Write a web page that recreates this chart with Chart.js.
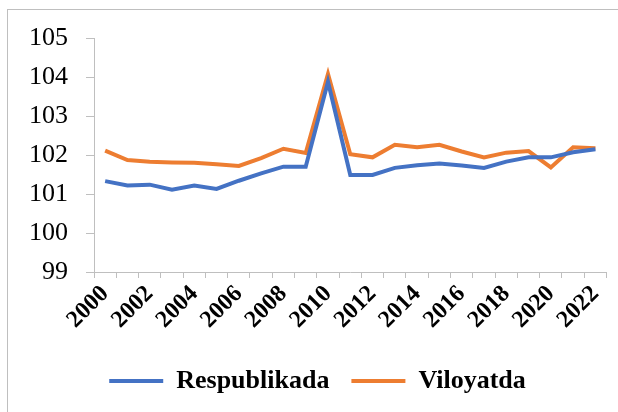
<!DOCTYPE html>
<html lang="en">

<head>
  <meta charset="UTF-8">
  <title>Respublikada va Viloyatda</title>
  <script src="https://cdn.jsdelivr.net/npm/chart.js"></script>
  <style>
    body {
      margin: 0;
      background: #ffffff;
      width: 618px;
      height: 412px;
      overflow: hidden;
      position: relative;
    }

    .frame {
      position: absolute;
      left: 7px;
      top: 9px;
      width: 700px;
      height: 500px;
      border: 1px solid #bfbfbf;
    }

    #chart {
      position: absolute;
      left: 0;
      top: 0;
    }
  </style>
</head>

<body>

  <div class="frame"></div>
  <canvas id="chart" width="618" height="412"></canvas>

  <script>
    const years = ['2000', '2001', '2002', '2003', '2004', '2005', '2006', '2007', '2008', '2009', '2010', '2011',
      '2012', '2013', '2014', '2015', '2016', '2017', '2018', '2019', '2020', '2021', '2022'];
    const respublikada = [101.33, 101.22, 101.24, 101.11, 101.22, 101.13, 101.34, 101.53, 101.70, 101.70, 103.88, 101.49,
      101.49, 101.67, 101.74, 101.78, 101.73, 101.67, 101.83, 101.94, 101.94, 102.07, 102.15];
    const viloyatda = [102.11, 101.87, 101.83, 101.81, 101.80, 101.76, 101.72, 101.92, 102.16, 102.05, 104.08, 102.02,
      101.94, 102.26, 102.20, 102.26, 102.09, 101.94, 102.06, 102.10, 101.68, 102.20, 102.17];

    const axisGray = '#bfbfbf';

    new Chart(document.getElementById('chart'), {
      type: 'line',
      data: {
        labels: years,
        datasets: [{
          label: 'Respublikada',
          data: respublikada,
          borderColor: '#4472c4',
          backgroundColor: '#4472c4',
          borderWidth: 4,
          pointRadius: 0,
          tension: 0,
          fill: false
        }, {
          label: 'Viloyatda',
          data: viloyatda,
          borderColor: '#ed7d31',
          backgroundColor: '#ed7d31',
          borderWidth: 4,
          pointRadius: 0,
          tension: 0,
          fill: false
        }]
      },
      options: {
        responsive: false,
        animation: false,
        layout: {
          padding: { top: 38, left: 27, right: 10, bottom: 8 }
        },
        plugins: {
          tooltip: { enabled: false },
          legend: {
            position: 'bottom',
            labels: {
              boxWidth: 54,
              boxHeight: 4,
              padding: 22,
              color: '#000',
              font: { family: 'Liberation Serif', size: 26, weight: 'bold' },
              generateLabels: (chart) => {
                const items = Chart.defaults.plugins.legend.labels.generateLabels(chart);
                items.forEach(it => { it.lineWidth = 0; });
                return items;
              }
            }
          }
        },
        scales: {
          x: {
            offset: true,
            afterFit: (scale) => { scale.height = 74; },
            grid: {
              offset: true,
              drawOnChartArea: false,
              drawTicks: true,
              tickLength: 6,
              color: axisGray
            },
            border: { color: axisGray, width: 1 },
            ticks: {
              autoSkip: false,
              minRotation: 45,
              maxRotation: 45,
              padding: 2,
              color: '#000',
              font: { family: 'Liberation Serif', size: 24, weight: 'bold' },
              callback: (v, i) => (i % 2 === 0 ? years[i] : '')
            }
          },
          y: {
            min: 99,
            max: 105,
            afterFit: (scale) => { scale.width = 67; },
            grid: {
              drawOnChartArea: false,
              drawTicks: true,
              tickLength: 8,
              color: axisGray
            },
            border: { color: axisGray, width: 1 },
            ticks: {
              stepSize: 1,
              padding: 18,
              color: '#000',
              font: { family: 'Liberation Serif', size: 26 }
            }
          }
        }
      }
    });
  </script>

</body>

</html>
